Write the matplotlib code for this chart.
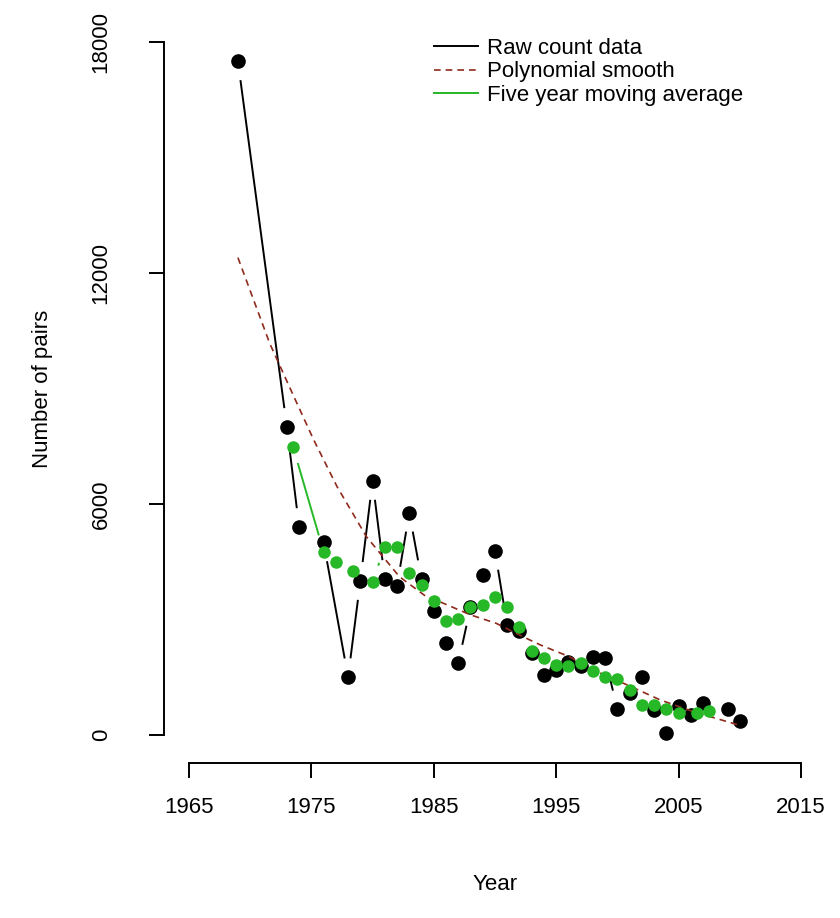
import numpy as np
import matplotlib
matplotlib.use("Agg")
import matplotlib.pyplot as plt

# ----- Data -----
years = [1969, 1973, 1974, 1976, 1978, 1979, 1980, 1981, 1982, 1983, 1984,
         1985, 1986, 1987, 1988, 1989, 1990, 1991, 1992, 1993, 1994, 1995,
         1996, 1997, 1998, 1999, 2000, 2001, 2002, 2003, 2004, 2005, 2006,
         2007, 2009, 2010]
pairs = [17500, 8000, 5400, 5000, 1500, 4000, 6600, 4050, 3880, 5770, 4050,
         3220, 2380, 1860, 3320, 4150, 4780, 2850, 2700, 2140, 1560, 1690,
         1900, 1780, 2030, 1990, 670, 1080, 1510, 650, 50, 750, 520,
         840, 670, 360]

ma_years = [1973.5, 1976, 1977, 1978.4, 1980, 1981, 1982, 1983, 1984, 1985,
            1986, 1987, 1988, 1989, 1990, 1991, 1992, 1993, 1994, 1995, 1996,
            1997, 1998, 1999, 2000, 2001, 2002, 2003, 2004, 2005, 2006.5, 2007.5]
ma_vals = [7490, 4760, 4500, 4260, 3980, 4890, 4890, 4220, 3900, 3480,
           2970, 3010, 3320, 3380, 3580, 3320, 2800, 2170, 1990, 1820, 1780,
           1860, 1660, 1500, 1450, 1170, 780, 780, 670, 580, 580, 630]

poly_years = [1969, 1971.6, 1973.7, 1975.2, 1977.1, 1979.5, 1982.2, 1984.4,
              1985.5, 1988, 1990.1, 1992.3, 1993.7, 1996.1, 1998, 2000.8,
              2003.5, 2006.2, 2010]
poly_vals = [12400, 10170, 8700, 7660, 6450, 5150, 4110, 3590, 3460, 3120,
             2900, 2550, 2340, 2030, 1690, 1300, 910, 605, 250]

x_ticks = [1965, 1975, 1985, 1995, 2005, 2015]
y_ticks = [0, 6000, 12000, 18000]

BLACK = "black"
RED = "#8f2a1c"
GREEN = "#26b826"

plt.rcParams['font.family'] = ['Liberation Sans', 'DejaVu Sans']
plt.rcParams['font.size'] = 16


def gapped(ax, x, y, gap=20.0):
    """Segments between points with a gap around each point (like R type='b')"""
    pts = ax.transData.transform(np.column_stack([x, y]))
    out = []
    for p0, p1 in zip(pts[:-1], pts[1:]):
        d = np.hypot(*(p1 - p0))
        if d <= 2 * gap:
            continue
        u = (p1 - p0) / d
        out.append(p0 + u * gap)
        out.append(p1 - u * gap)
        out.append([np.nan, np.nan])
    if not out:
        return [], []
    out = np.array(out)
    ok = ~np.isnan(out[:, 0])
    data = np.full_like(out, np.nan)
    data[ok] = ax.transData.inverted().transform(out[ok])
    return data[:, 0], data[:, 1]


# ----- Plot setup -----
fig = plt.figure(figsize=(8.4, 9.18), dpi=100)
ax = fig.add_axes([0.1958, 0.1692, 0.7869, 0.8152])
ax.set_xlim(1963, 2017)
ax.set_ylim(-720, 18720)

for s in ['top', 'right']:
    ax.spines[s].set_visible(False)
ax.spines['bottom'].set_bounds(1965, 2015)
ax.spines['left'].set_bounds(0, 18000)
for s in ['bottom', 'left']:
    ax.spines[s].set_linewidth(1.4)

ax.set_xticks(x_ticks)
ax.set_yticks(y_ticks)
ax.tick_params(axis='both', length=11, width=1.4, labelsize=16)
ax.tick_params(axis='x', pad=14)
ax.tick_params(axis='y', pad=27, labelrotation=90)
for lab in ax.get_yticklabels():
    lab.set_va('center')

ax.set_xlabel("Year", fontsize=16, labelpad=40)
ax.set_ylabel("Number of pairs", fontsize=16, labelpad=27)

# Raw counts (type = 'b')
gx, gy = gapped(ax, years, pairs)
ax.plot(gx, gy, color=BLACK, lw=1.4, label="Raw count data")
ax.plot(years, pairs, 'o', color=BLACK, markersize=9.5, ls='none')

# Polynomial smooth
ax.plot(poly_years, poly_vals, color=RED, lw=1.2, ls=(0, (4, 3)),
        label="Polynomial smooth")

# Five year moving average (type = 'b')
gx, gy = gapped(ax, ma_years, ma_vals, gap=18.0)
ax.plot(gx, gy, color=GREEN, lw=1.4, label="Five year moving average")
ax.plot(ma_years, ma_vals, 'o', color=GREEN, markersize=8, ls='none')

ax.legend(loc='upper left', bbox_to_anchor=(0.394, 0.98), frameon=False,
          fontsize=16, handlelength=2.0, handletextpad=0.4, labelspacing=0.1,
          borderaxespad=0.0)

fig.savefig("out.png", dpi=100)
